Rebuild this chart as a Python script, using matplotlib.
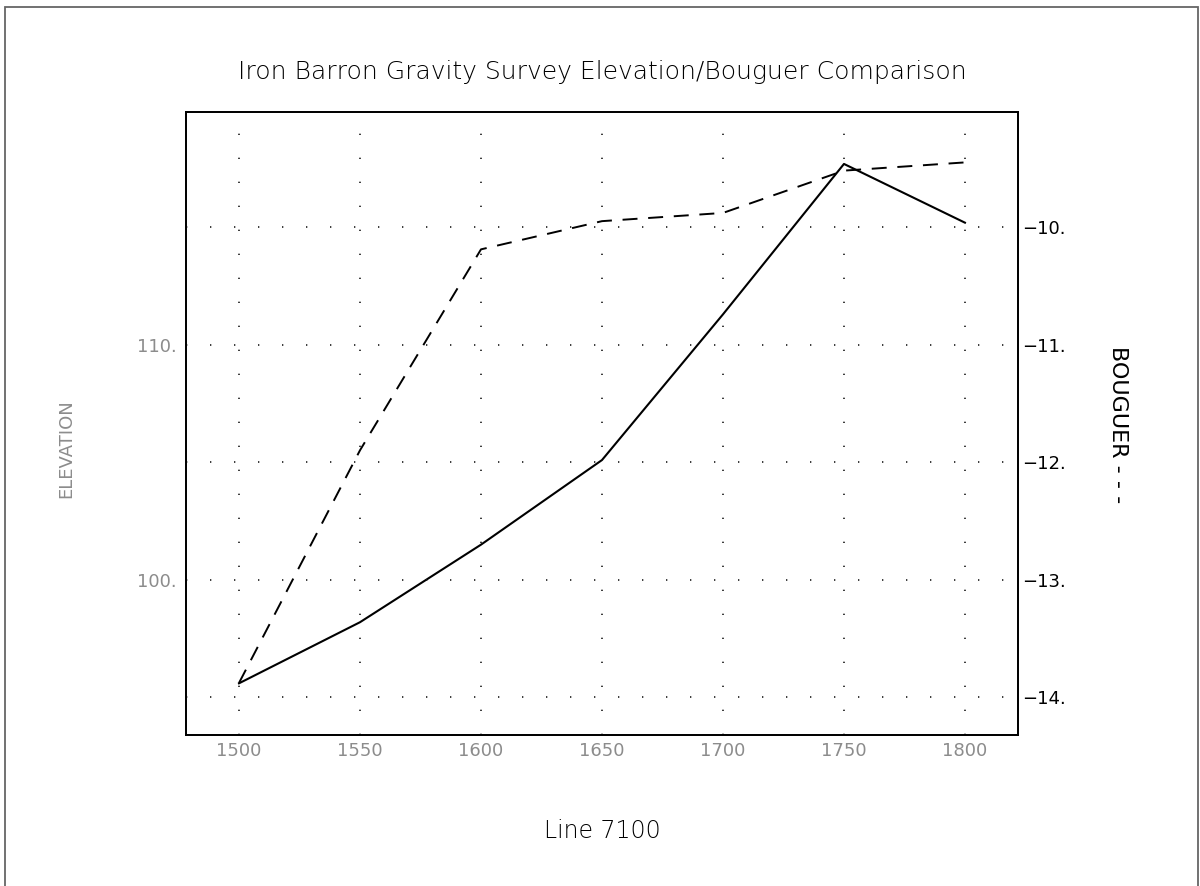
import matplotlib
matplotlib.use("Agg")
import matplotlib.pyplot as plt
from matplotlib.patches import Rectangle
from matplotlib.ticker import FuncFormatter

# stations along line 7100
stations = [1500, 1550, 1600, 1650, 1700, 1750, 1800]
elevation = [95.6, 98.2, 101.5, 105.1, 111.3, 117.7, 115.2]
bouguer = [-13.88, -11.90, -10.19, -9.95, -9.88, -9.52, -9.45]

elev_ticks = [100, 110]
boug_ticks = [-14, -13, -12, -11, -10]

GRAY = '#8c8c8c'
grid_style = dict(color='0.1', linewidth=1.2, linestyle=(0, (0.8, 13.6)))

fig = plt.figure(figsize=(12, 8.86), dpi=100)
ax = fig.add_axes([0.155, 0.1704, 0.6933, 0.7032])
ax2 = ax.twinx()

# elevation, solid line on left axis
ax.plot(stations, elevation, color='black', linewidth=1.5)
ax.set_xlim(1478.1, 1821.9)
ax.set_ylim(93.40, 119.91)
ax.set_xticks(stations)
ax.set_yticks(elev_ticks)
ax.yaxis.set_major_formatter(FuncFormatter(lambda v, p: f'{v:.0f}.'))
ax.tick_params(axis='y', length=0, pad=7, labelsize=13, labelcolor=GRAY)
ax.tick_params(axis='x', length=0, pad=5, labelsize=13, labelcolor=GRAY)
ax.grid(axis='x', **grid_style)
ax.set_ylabel('ELEVATION', color=GRAY, fontsize=13)
ax.yaxis.set_label_coords(-0.1334, 0.46)

# bouguer, dashed line on right axis
ax2.plot(stations, bouguer, color='black', linewidth=1.4, linestyle=(0, (7.7, 5.5)))
ax2.set_ylim(-14.323, -9.021)
ax2.set_yticks(boug_ticks)
ax2.yaxis.set_major_formatter(FuncFormatter(lambda v, p: f'\u2212{abs(v):.0f}.'))
ax2.tick_params(axis='y', length=0, pad=3, labelsize=13, labelcolor='black')
ax2.grid(axis='y', **grid_style)
ax2.set_ylabel('BOUGUER - - -', rotation=-90, fontsize=16, color='black')
ax2.yaxis.set_label_coords(1.132, 0.499)

for a in (ax, ax2):
    for s in a.spines.values():
        s.set_linewidth(1.3)
        s.set_color('black')

fig.text(602 / 1200, 1 - 72 / 886, 'Iron Barron Gravity Survey Elevation/Bouguer Comparison',
         ha='center', va='center', fontsize=18, fontweight='light')
fig.text(602 / 1200, 1 - 831 / 886, 'Line 7100', ha='center', va='center',
         fontsize=17, fontweight='light')

# outer frame around the page
fig.patches.append(Rectangle((5 / 1200, -0.02), 1193 / 1200, 1.02 - 7 / 886,
                             transform=fig.transFigure, fill=False,
                             edgecolor='0.4', linewidth=1.3))

fig.savefig('out.png', dpi=100, facecolor='white')
